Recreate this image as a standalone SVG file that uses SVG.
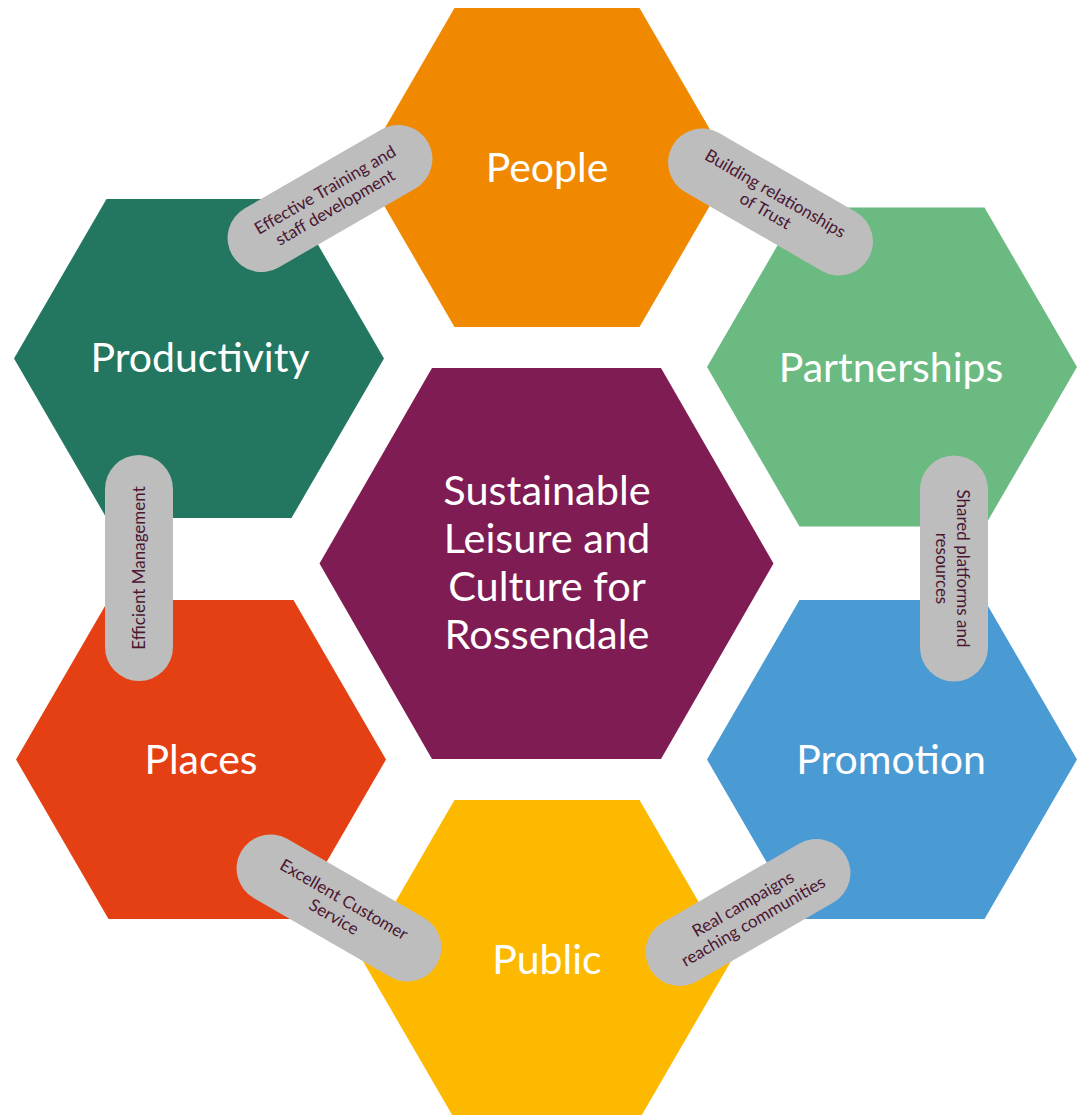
<svg xmlns="http://www.w3.org/2000/svg" width="1080" height="1115" viewBox="0 0 1080 1115">
<defs>
<style>
.lbl{font-family:Lato,"Open Sans","DejaVu Sans",sans-serif;fill:#ffffff;font-size:41px;text-anchor:middle}
.ctr{font-family:Lato,"Open Sans","DejaVu Sans",sans-serif;fill:#ffffff;font-size:41.5px;text-anchor:middle}
.pill{fill:#bdbdbd}
.pt{font-family:Lato,"Open Sans","DejaVu Sans",sans-serif;fill:#4a1632;font-size:17px;text-anchor:middle}
</style>
<polygon id="hexS" points="-185,0 -92.5,-159.5 92.5,-159.5 185,0 92.5,159.5 -92.5,159.5"/>
<rect id="pillShape" x="-113" y="-34" width="226" height="68" rx="34" ry="34"/>
</defs>
<rect width="1080" height="1115" fill="#ffffff"/>
<g id="node-people"><use href="#hexS" transform="translate(547,167.5)" fill="#f08800"/><text class="lbl" x="547" y="182">People</text></g>
<g id="node-partnerships"><use href="#hexS" transform="translate(892,367)" fill="#6bba82"/><text class="lbl" x="891" y="382">Partnerships</text></g>
<g id="node-promotion"><use href="#hexS" transform="translate(892,759.5)" fill="#4a9ad4"/><text class="lbl" x="891" y="774">Promotion</text></g>
<g id="node-public"><use href="#hexS" transform="translate(547,959.5)" fill="#fdb900"/><text class="lbl" x="547" y="974">Public</text></g>
<g id="node-places"><use href="#hexS" transform="translate(201,759.5)" fill="#e54014"/><text class="lbl" x="201" y="774">Places</text></g>
<g id="node-productivity"><use href="#hexS" transform="translate(199,358.5)" fill="#237760"/><text class="lbl" x="200" y="372">Productivity</text></g>
<g id="node-center">
<polygon points="319.5,563.5 432,368 661,368 773.5,563.5 661,759 432,759" fill="#801c54"/>
<text class="ctr" x="547" y="505">Sustainable</text>
<text class="ctr" x="547" y="553">Leisure and</text>
<text class="ctr" x="547" y="601">Culture for</text>
<text class="ctr" x="547" y="649">Rossendale</text>
</g>
<g id="connectors">
<g transform="translate(330,198.5) rotate(-30)"><use href="#pillShape" class="pill"/><text class="pt" y="-4">Effective Training and</text><text class="pt" y="16">staff development</text></g>
<g transform="translate(770.5,202) rotate(30)"><use href="#pillShape" class="pill"/><text class="pt" y="-4">Building relationships</text><text class="pt" y="16">of Trust</text></g>
<g transform="translate(954,568.5) rotate(90)"><use href="#pillShape" class="pill"/><text class="pt" y="-3">Shared platforms and</text><text class="pt" y="18">resources</text></g>
<g transform="translate(139,568) rotate(-90)"><use href="#pillShape" class="pill"/><text class="pt" y="6">Efficient Management</text></g>
<g transform="translate(339,908) rotate(30)"><use href="#pillShape" class="pill"/><text class="pt" y="-4">Excellent Customer</text><text class="pt" y="16">Service</text></g>
<g transform="translate(748,912.5) rotate(-30)"><use href="#pillShape" class="pill"/><text class="pt" y="-4">Real campaigns</text><text class="pt" y="16">reaching communities</text></g>
</g>
</svg>
